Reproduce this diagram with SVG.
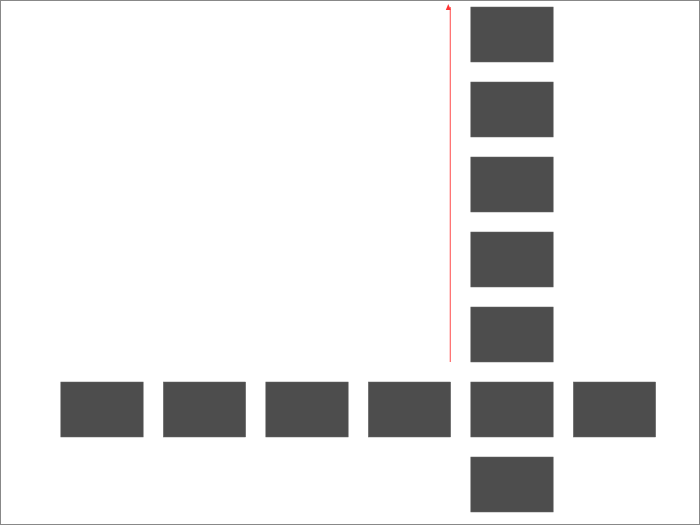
<svg xmlns="http://www.w3.org/2000/svg" width="700" height="525" viewBox="0 0 700 525">
<style>
.n{fill:#4d4d4d;stroke:#666;stroke-width:0.5}
.c{stroke:#ff6666;stroke-width:1.2;fill:none}
</style>
<defs>
<marker id="ah" markerWidth="6" markerHeight="6" refX="3" refY="5" orient="auto-start-reverse" markerUnits="userSpaceOnUse" viewBox="0 0 6 6">
<path d="M3,0 L5.5,6 L0.5,6 Z" fill="#ff3333" transform="rotate(90 3 3)"/>
</marker>
</defs>
<rect x="0.5" y="0.5" width="699" height="524" fill="#fff" stroke="#888" stroke-width="1"/>
<g id="connectors">
<line class="c" x1="450.3" y1="362" x2="450.3" y2="7" marker-end="url(#ah)"/>
</g>
<g id="n1"><rect class="n" x="470.8" y="7" width="82.4" height="55"/></g>
<g id="n2"><rect class="n" x="470.8" y="82" width="82.4" height="55"/></g>
<g id="n3"><rect class="n" x="470.8" y="157" width="82.4" height="55"/></g>
<g id="n4"><rect class="n" x="470.8" y="232" width="82.4" height="55"/></g>
<g id="n5"><rect class="n" x="470.8" y="307" width="82.4" height="55"/></g>
<g id="n6"><rect class="n" x="470.8" y="382" width="82.4" height="55"/></g>
<g id="n7"><rect class="n" x="470.8" y="457" width="82.4" height="55"/></g>
<g id="b1"><rect class="n" x="60.8" y="382" width="82.4" height="55"/></g>
<g id="b2"><rect class="n" x="163.3" y="382" width="82.4" height="55"/></g>
<g id="b3"><rect class="n" x="265.8" y="382" width="82.4" height="55"/></g>
<g id="b4"><rect class="n" x="368.3" y="382" width="82.4" height="55"/></g>
<g id="b6"><rect class="n" x="573.3" y="382" width="82.4" height="55"/></g>
</svg>
